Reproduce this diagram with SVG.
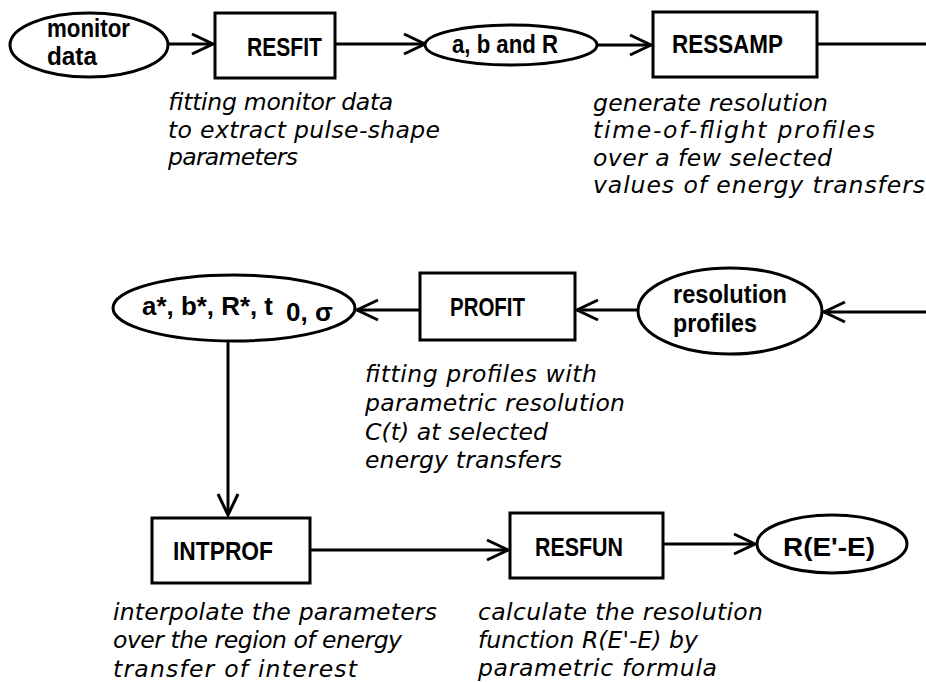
<svg xmlns="http://www.w3.org/2000/svg" width="926" height="682" viewBox="0 0 926 682">
<style>
.shape{fill:#fff;stroke:#000;stroke-width:3}
.conn{fill:none;stroke:#000;stroke-width:3}
.lbl{font-family:"Liberation Sans",Arial,sans-serif;font-weight:bold;font-size:26px;fill:#000}
.desc{font-family:"DejaVu Sans","Liberation Sans",sans-serif;font-style:oblique;font-size:23.5px;fill:#000}
</style>
<defs>
<marker id="chev" markerUnits="userSpaceOnUse" markerWidth="30" markerHeight="30" viewBox="-26 -15 30 30" refX="0" refY="0" orient="auto">
<path d="M-21,-10 L0,0 L-21,10" fill="none" stroke="#000" stroke-width="3"/>
</marker>
</defs>
<rect width="926" height="682" fill="#fff"/>
<g id="connectors">
<path class="conn" d="M168,44 L213,44" marker-end="url(#chev)"/>
<path class="conn" d="M335,44 L425,44" marker-end="url(#chev)"/>
<path class="conn" d="M597,45 L651,45" marker-end="url(#chev)"/>
<path class="conn" d="M817,44 L926,44"/>
<path class="conn" d="M926,312 L824,312" marker-end="url(#chev)"/>
<path class="conn" d="M638,310 L577,310" marker-end="url(#chev)"/>
<path class="conn" d="M420,310 L357,310" marker-end="url(#chev)"/>
<path class="conn" d="M228,342 L228,515" marker-end="url(#chev)"/>
<path class="conn" d="M310,550 L508,550" marker-end="url(#chev)"/>
<path class="conn" d="M663,544 L755,544" marker-end="url(#chev)"/>
</g>
<g id="monitor-data">
<ellipse class="shape" cx="89" cy="45" rx="79" ry="32"/>
<text class="lbl" x="47" y="37" textLength="83" lengthAdjust="spacingAndGlyphs">monitor</text>
<text class="lbl" x="47" y="65" textLength="50" lengthAdjust="spacingAndGlyphs">data</text>
</g>
<g id="resfit">
<rect class="shape" x="215" y="13" width="120" height="65"/>
<text class="lbl" x="247" y="56" textLength="75" lengthAdjust="spacingAndGlyphs">RESFIT</text>
<text class="desc" x="168" y="110" textLength="225">fitting monitor data</text>
<text class="desc" x="168" y="138" textLength="272">to extract pulse-shape</text>
<text class="desc" x="168" y="165" textLength="130">parameters</text>
</g>
<g id="abR">
<ellipse class="shape" cx="511" cy="45" rx="86" ry="20"/>
<text class="lbl" x="452" y="53" textLength="106" lengthAdjust="spacingAndGlyphs">a, b and R</text>
</g>
<g id="ressamp">
<rect class="shape" x="653" y="12" width="164" height="65"/>
<text class="lbl" x="672" y="53" textLength="111" lengthAdjust="spacingAndGlyphs">RESSAMP</text>
<text class="desc" x="593" y="111" textLength="235">generate resolution</text>
<text class="desc" x="593" y="138" textLength="282">time-of-flight profiles</text>
<text class="desc" x="593" y="166" textLength="239">over a few selected</text>
<text class="desc" x="593" y="193" textLength="332">values of energy transfers</text>
</g>
<g id="resolution-profiles">
<ellipse class="shape" cx="730" cy="311" rx="92" ry="43"/>
<text class="lbl" x="673" y="303" textLength="114" lengthAdjust="spacingAndGlyphs">resolution</text>
<text class="lbl" x="673" y="332" textLength="84" lengthAdjust="spacingAndGlyphs">profiles</text>
</g>
<g id="profit">
<rect class="shape" x="420" y="273" width="155" height="67"/>
<text class="lbl" x="450" y="316" textLength="75" lengthAdjust="spacingAndGlyphs">PROFIT</text>
<text class="desc" x="365" y="382" textLength="232">fitting profiles with</text>
<text class="desc" x="365" y="411" textLength="260">parametric resolution</text>
<text class="desc" x="365" y="440" textLength="183">C(t) at selected</text>
<text class="desc" x="365" y="468" textLength="197">energy transfers</text>
</g>
<g id="params">
<ellipse class="shape" cx="234" cy="308" rx="121" ry="33"/>
<text class="lbl" x="142" y="315"><tspan textLength="131" lengthAdjust="spacingAndGlyphs">a*, b*, R*, t</tspan><tspan x="286" y="321">0</tspan><tspan>, σ</tspan></text>
</g>
<g id="intprof">
<rect class="shape" x="152" y="518" width="158" height="65"/>
<text class="lbl" x="173" y="560" textLength="100" lengthAdjust="spacingAndGlyphs">INTPROF</text>
<text class="desc" x="113" y="620" textLength="324">interpolate the parameters</text>
<text class="desc" x="113" y="648" textLength="289">over the region of energy</text>
<text class="desc" x="113" y="677" textLength="244">transfer of interest</text>
</g>
<g id="resfun">
<rect class="shape" x="510" y="513" width="153" height="65"/>
<text class="lbl" x="535" y="556" textLength="88" lengthAdjust="spacingAndGlyphs">RESFUN</text>
<text class="desc" x="478" y="620" textLength="285">calculate the resolution</text>
<text class="desc" x="478" y="648" textLength="220">function R(E'-E) by</text>
<text class="desc" x="478" y="676" textLength="239">parametric formula</text>
</g>
<g id="result">
<ellipse class="shape" cx="832" cy="544" rx="75" ry="29"/>
<text class="lbl" x="783" y="556" textLength="92" lengthAdjust="spacingAndGlyphs">R(E'-E)</text>
</g>
</svg>
